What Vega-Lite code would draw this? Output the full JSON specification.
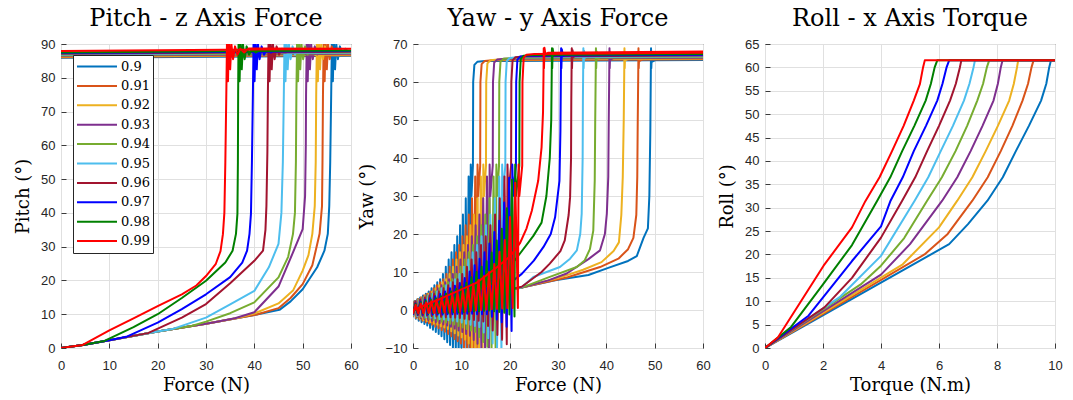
{
"$schema":"https://vega.github.io/schema/vega-lite/v6.json",
"background":"white",
"padding":{"left":14,"top":6,"right":5,"bottom":3},
"spacing":62,
"bounds":"flush",
"config":{
"view":{"stroke":"#3a3a3a","strokeWidth":1},
"axis":{"grid":true,"gridColor":"#e0e0e0","gridWidth":1,"domain":false,"ticks":true,"tickSize":-5,"tickColor":"#3a3a3a","tickWidth":1,"labelFlush":false,"labelFont":"Liberation Sans","labelFontSize":13,"labelColor":"#262626","titleFont":"DejaVu Serif","titleFontSize":18,"titleFontWeight":"normal","titleColor":"#000000"},
"axisX":{"labelPadding":16,"titlePadding":4},
"axisY":{"labelPadding":11,"titlePadding":8},
"title":{"font":"DejaVu Serif","fontSize":24,"fontWeight":"normal","color":"#000000","offset":7,"anchor":"middle"},
"line":{"strokeWidth":2,"strokeJoin":"round","clip":true}
},
"resolve":{"scale":{"color":"independent"},"legend":{"color":"independent"}},
"datasets":{
"pitch":[
{"s":"0.9","o":0,"x":0,"y":0},{"s":"0.9","o":1,"x":4.5,"y":0.9},{"s":"0.9","o":2,"x":10,"y":2.3},{"s":"0.9","o":3,"x":20,"y":4.9},{"s":"0.9","o":4,"x":30,"y":7.2},{"s":"0.9","o":5,"x":40,"y":9.8},{"s":"0.9","o":6,"x":45.2,"y":11.3},{"s":"0.9","o":7,"x":47.5,"y":13.8},{"s":"0.9","o":8,"x":50,"y":17.4},{"s":"0.9","o":9,"x":53,"y":23.9},{"s":"0.9","o":10,"x":54.5,"y":28.8},{"s":"0.9","o":11,"x":55.2,"y":33.8},{"s":"0.9","o":12,"x":55.5,"y":42},{"s":"0.9","o":13,"x":55.7,"y":55},{"s":"0.9","o":14,"x":55.9,"y":75},{"s":"0.9","o":15,"x":56,"y":86},{"s":"0.9","o":16,"x":56.05,"y":92},{"s":"0.9","o":17,"x":56.25,"y":79},{"s":"0.9","o":18,"x":56.45,"y":91.5},{"s":"0.9","o":19,"x":56.7,"y":82.5},{"s":"0.9","o":20,"x":56.95,"y":90},{"s":"0.9","o":21,"x":57.3,"y":85.5},{"s":"0.9","o":22,"x":57.7,"y":89.3},{"s":"0.9","o":23,"x":58.2,"y":86.8},{"s":"0.9","o":24,"x":58.8,"y":88.6},{"s":"0.9","o":25,"x":59.6,"y":87.5},{"s":"0.9","o":26,"x":60.5,"y":86.6},{"s":"0.9","o":27,"x":60,"y":86.5},{"s":"0.9","o":28,"x":0,"y":85.9},
{"s":"0.91","o":0,"x":0,"y":0},{"s":"0.91","o":1,"x":4.5,"y":0.9},{"s":"0.91","o":2,"x":10,"y":2.3},{"s":"0.91","o":3,"x":20,"y":4.9},{"s":"0.91","o":4,"x":30,"y":7.2},{"s":"0.91","o":5,"x":40.5,"y":9.9},{"s":"0.91","o":6,"x":45,"y":11.8},{"s":"0.91","o":7,"x":47.5,"y":14.8},{"s":"0.91","o":8,"x":50,"y":18.9},{"s":"0.91","o":9,"x":52,"y":24.5},{"s":"0.91","o":10,"x":53.5,"y":33.8},{"s":"0.91","o":11,"x":54,"y":42},{"s":"0.91","o":12,"x":54.1,"y":55},{"s":"0.91","o":13,"x":54.2,"y":75},{"s":"0.91","o":14,"x":54.3,"y":86},{"s":"0.91","o":15,"x":54.35,"y":92},{"s":"0.91","o":16,"x":54.55,"y":79},{"s":"0.91","o":17,"x":54.75,"y":91.5},{"s":"0.91","o":18,"x":55,"y":82.5},{"s":"0.91","o":19,"x":55.25,"y":90},{"s":"0.91","o":20,"x":55.6,"y":85.5},{"s":"0.91","o":21,"x":56,"y":89.3},{"s":"0.91","o":22,"x":56.5,"y":86.8},{"s":"0.91","o":23,"x":57.1,"y":88.6},{"s":"0.91","o":24,"x":57.9,"y":87.5},{"s":"0.91","o":25,"x":58.8,"y":86.8},{"s":"0.91","o":26,"x":60,"y":86.7},{"s":"0.91","o":27,"x":0,"y":86.1},
{"s":"0.92","o":0,"x":0,"y":0},{"s":"0.92","o":1,"x":4.5,"y":0.9},{"s":"0.92","o":2,"x":10,"y":2.3},{"s":"0.92","o":3,"x":20,"y":4.9},{"s":"0.92","o":4,"x":30,"y":7.2},{"s":"0.92","o":5,"x":36.5,"y":8.9},{"s":"0.92","o":6,"x":40,"y":10.2},{"s":"0.92","o":7,"x":45,"y":13.2},{"s":"0.92","o":8,"x":48,"y":17},{"s":"0.92","o":9,"x":50,"y":22.9},{"s":"0.92","o":10,"x":51.2,"y":27.5},{"s":"0.92","o":11,"x":52,"y":33.8},{"s":"0.92","o":12,"x":52.5,"y":42},{"s":"0.92","o":13,"x":52.7,"y":55},{"s":"0.92","o":14,"x":52.8,"y":75},{"s":"0.92","o":15,"x":52.9,"y":86},{"s":"0.92","o":16,"x":52.95,"y":92},{"s":"0.92","o":17,"x":53.15,"y":79},{"s":"0.92","o":18,"x":53.35,"y":91.5},{"s":"0.92","o":19,"x":53.6,"y":82.5},{"s":"0.92","o":20,"x":53.85,"y":90},{"s":"0.92","o":21,"x":54.2,"y":85.5},{"s":"0.92","o":22,"x":54.6,"y":89.3},{"s":"0.92","o":23,"x":55.1,"y":86.8},{"s":"0.92","o":24,"x":55.7,"y":88.6},{"s":"0.92","o":25,"x":56.5,"y":87.5},{"s":"0.92","o":26,"x":57.4,"y":87},{"s":"0.92","o":27,"x":60,"y":86.9},{"s":"0.92","o":28,"x":0,"y":86.3},
{"s":"0.93","o":0,"x":0,"y":0},{"s":"0.93","o":1,"x":4.5,"y":0.9},{"s":"0.93","o":2,"x":10,"y":2.3},{"s":"0.93","o":3,"x":20,"y":4.9},{"s":"0.93","o":4,"x":30,"y":7.2},{"s":"0.93","o":5,"x":32,"y":7.7},{"s":"0.93","o":6,"x":36,"y":8.8},{"s":"0.93","o":7,"x":40,"y":10.6},{"s":"0.93","o":8,"x":45,"y":18.2},{"s":"0.93","o":9,"x":48,"y":28.3},{"s":"0.93","o":10,"x":50,"y":35.2},{"s":"0.93","o":11,"x":50.5,"y":45},{"s":"0.93","o":12,"x":50.65,"y":60},{"s":"0.93","o":13,"x":50.7,"y":75},{"s":"0.93","o":14,"x":50.8,"y":86},{"s":"0.93","o":15,"x":50.85,"y":92},{"s":"0.93","o":16,"x":51.05,"y":79},{"s":"0.93","o":17,"x":51.25,"y":91.5},{"s":"0.93","o":18,"x":51.5,"y":82.5},{"s":"0.93","o":19,"x":51.75,"y":90},{"s":"0.93","o":20,"x":52.1,"y":85.5},{"s":"0.93","o":21,"x":52.5,"y":89.3},{"s":"0.93","o":22,"x":53,"y":86.8},{"s":"0.93","o":23,"x":53.6,"y":88.6},{"s":"0.93","o":24,"x":54.4,"y":87.5},{"s":"0.93","o":25,"x":55.3,"y":87.2},{"s":"0.93","o":26,"x":60,"y":87.1},{"s":"0.93","o":27,"x":0,"y":86.5},
{"s":"0.94","o":0,"x":0,"y":0},{"s":"0.94","o":1,"x":4.5,"y":0.9},{"s":"0.94","o":2,"x":10,"y":2.3},{"s":"0.94","o":3,"x":20,"y":4.9},{"s":"0.94","o":4,"x":27,"y":6.5},{"s":"0.94","o":5,"x":30,"y":7.8},{"s":"0.94","o":6,"x":35,"y":10.3},{"s":"0.94","o":7,"x":40,"y":13.5},{"s":"0.94","o":8,"x":45,"y":20.9},{"s":"0.94","o":9,"x":47,"y":27},{"s":"0.94","o":10,"x":48,"y":33.8},{"s":"0.94","o":11,"x":48.4,"y":40},{"s":"0.94","o":12,"x":48.6,"y":55},{"s":"0.94","o":13,"x":48.7,"y":75},{"s":"0.94","o":14,"x":48.8,"y":86},{"s":"0.94","o":15,"x":48.85,"y":92},{"s":"0.94","o":16,"x":49.05,"y":79},{"s":"0.94","o":17,"x":49.25,"y":91.5},{"s":"0.94","o":18,"x":49.5,"y":82.5},{"s":"0.94","o":19,"x":49.75,"y":90},{"s":"0.94","o":20,"x":50.1,"y":85.5},{"s":"0.94","o":21,"x":50.5,"y":89.3},{"s":"0.94","o":22,"x":51,"y":86.8},{"s":"0.94","o":23,"x":51.6,"y":88.6},{"s":"0.94","o":24,"x":52.4,"y":87.5},{"s":"0.94","o":25,"x":53.3,"y":87.4},{"s":"0.94","o":26,"x":60,"y":87.3},{"s":"0.94","o":27,"x":0,"y":86.7},
{"s":"0.95","o":0,"x":0,"y":0},{"s":"0.95","o":1,"x":4.5,"y":0.9},{"s":"0.95","o":2,"x":10,"y":2.3},{"s":"0.95","o":3,"x":20,"y":4.9},{"s":"0.95","o":4,"x":23,"y":5.6},{"s":"0.95","o":5,"x":30,"y":9},{"s":"0.95","o":6,"x":35,"y":12.9},{"s":"0.95","o":7,"x":40,"y":16.9},{"s":"0.95","o":8,"x":43,"y":23.9},{"s":"0.95","o":9,"x":45,"y":30.8},{"s":"0.95","o":10,"x":45.6,"y":40},{"s":"0.95","o":11,"x":45.9,"y":55},{"s":"0.95","o":12,"x":46.1,"y":75},{"s":"0.95","o":13,"x":46.2,"y":86},{"s":"0.95","o":14,"x":46.25,"y":92},{"s":"0.95","o":15,"x":46.45,"y":79},{"s":"0.95","o":16,"x":46.65,"y":91.5},{"s":"0.95","o":17,"x":46.9,"y":82.5},{"s":"0.95","o":18,"x":47.15,"y":90},{"s":"0.95","o":19,"x":47.5,"y":85.5},{"s":"0.95","o":20,"x":47.9,"y":89.3},{"s":"0.95","o":21,"x":48.4,"y":86.8},{"s":"0.95","o":22,"x":49,"y":88.6},{"s":"0.95","o":23,"x":49.8,"y":87.5},{"s":"0.95","o":24,"x":50.7,"y":87.6},{"s":"0.95","o":25,"x":60,"y":87.5},{"s":"0.95","o":26,"x":0,"y":86.9},
{"s":"0.96","o":0,"x":0,"y":0},{"s":"0.96","o":1,"x":4.5,"y":0.9},{"s":"0.96","o":2,"x":10,"y":2.3},{"s":"0.96","o":3,"x":18,"y":4.4},{"s":"0.96","o":4,"x":25,"y":9},{"s":"0.96","o":5,"x":30,"y":13},{"s":"0.96","o":6,"x":35,"y":19.2},{"s":"0.96","o":7,"x":40,"y":25.8},{"s":"0.96","o":8,"x":41.8,"y":28.8},{"s":"0.96","o":9,"x":42.3,"y":35},{"s":"0.96","o":10,"x":42.5,"y":42},{"s":"0.96","o":11,"x":42.7,"y":58},{"s":"0.96","o":12,"x":42.8,"y":75},{"s":"0.96","o":13,"x":42.9,"y":86},{"s":"0.96","o":14,"x":42.95,"y":92},{"s":"0.96","o":15,"x":43.15,"y":79},{"s":"0.96","o":16,"x":43.35,"y":91.5},{"s":"0.96","o":17,"x":43.6,"y":82.5},{"s":"0.96","o":18,"x":43.85,"y":90},{"s":"0.96","o":19,"x":44.2,"y":85.5},{"s":"0.96","o":20,"x":44.6,"y":89.3},{"s":"0.96","o":21,"x":45.1,"y":86.8},{"s":"0.96","o":22,"x":45.7,"y":88.6},{"s":"0.96","o":23,"x":46.5,"y":87.5},{"s":"0.96","o":24,"x":47.4,"y":87.8},{"s":"0.96","o":25,"x":60,"y":87.7},{"s":"0.96","o":26,"x":0,"y":87.1},
{"s":"0.97","o":0,"x":0,"y":0},{"s":"0.97","o":1,"x":4.5,"y":0.9},{"s":"0.97","o":2,"x":10,"y":2.3},{"s":"0.97","o":3,"x":13.5,"y":3.3},{"s":"0.97","o":4,"x":20,"y":7.5},{"s":"0.97","o":5,"x":25,"y":11.5},{"s":"0.97","o":6,"x":30,"y":15.9},{"s":"0.97","o":7,"x":35,"y":21},{"s":"0.97","o":8,"x":37.5,"y":25.3},{"s":"0.97","o":9,"x":38.5,"y":28.8},{"s":"0.97","o":10,"x":39,"y":33.8},{"s":"0.97","o":11,"x":39.3,"y":39.7},{"s":"0.97","o":12,"x":39.5,"y":55},{"s":"0.97","o":13,"x":39.7,"y":75},{"s":"0.97","o":14,"x":39.8,"y":86},{"s":"0.97","o":15,"x":39.85,"y":92},{"s":"0.97","o":16,"x":40.05,"y":79},{"s":"0.97","o":17,"x":40.25,"y":91.5},{"s":"0.97","o":18,"x":40.5,"y":82.5},{"s":"0.97","o":19,"x":40.75,"y":90},{"s":"0.97","o":20,"x":41.1,"y":85.5},{"s":"0.97","o":21,"x":41.5,"y":89.3},{"s":"0.97","o":22,"x":42,"y":86.8},{"s":"0.97","o":23,"x":42.6,"y":88.6},{"s":"0.97","o":24,"x":43.4,"y":87.5},{"s":"0.97","o":25,"x":44.3,"y":88},{"s":"0.97","o":26,"x":60,"y":87.9},{"s":"0.97","o":27,"x":0,"y":87.3},
{"s":"0.98","o":0,"x":0,"y":0},{"s":"0.98","o":1,"x":4.5,"y":0.9},{"s":"0.98","o":2,"x":9,"y":2.1},{"s":"0.98","o":3,"x":15,"y":6.2},{"s":"0.98","o":4,"x":20,"y":10},{"s":"0.98","o":5,"x":25,"y":14.8},{"s":"0.98","o":6,"x":30,"y":19.9},{"s":"0.98","o":7,"x":34,"y":25.3},{"s":"0.98","o":8,"x":35.5,"y":28.8},{"s":"0.98","o":9,"x":36.2,"y":33.8},{"s":"0.98","o":10,"x":36.5,"y":39.7},{"s":"0.98","o":11,"x":36.6,"y":55},{"s":"0.98","o":12,"x":36.65,"y":75},{"s":"0.98","o":13,"x":36.7,"y":86},{"s":"0.98","o":14,"x":36.75,"y":92},{"s":"0.98","o":15,"x":36.95,"y":79},{"s":"0.98","o":16,"x":37.15,"y":91.5},{"s":"0.98","o":17,"x":37.4,"y":82.5},{"s":"0.98","o":18,"x":37.65,"y":90},{"s":"0.98","o":19,"x":38,"y":85.5},{"s":"0.98","o":20,"x":38.4,"y":89.3},{"s":"0.98","o":21,"x":38.9,"y":86.8},{"s":"0.98","o":22,"x":39.5,"y":88.6},{"s":"0.98","o":23,"x":40.3,"y":87.5},{"s":"0.98","o":24,"x":41.2,"y":88.2},{"s":"0.98","o":25,"x":60,"y":88.1},{"s":"0.98","o":26,"x":0,"y":87.5},
{"s":"0.99","o":0,"x":0,"y":0},{"s":"0.99","o":1,"x":4.5,"y":0.9},{"s":"0.99","o":2,"x":10,"y":5.2},{"s":"0.99","o":3,"x":15,"y":8.8},{"s":"0.99","o":4,"x":20,"y":12.4},{"s":"0.99","o":5,"x":25,"y":15.9},{"s":"0.99","o":6,"x":28,"y":18.5},{"s":"0.99","o":7,"x":30,"y":21.3},{"s":"0.99","o":8,"x":32,"y":24.8},{"s":"0.99","o":9,"x":33,"y":28.7},{"s":"0.99","o":10,"x":33.5,"y":33.7},{"s":"0.99","o":11,"x":33.8,"y":40},{"s":"0.99","o":12,"x":34,"y":55},{"s":"0.99","o":13,"x":34.2,"y":75},{"s":"0.99","o":14,"x":34.3,"y":86},{"s":"0.99","o":15,"x":34.35,"y":92},{"s":"0.99","o":16,"x":34.55,"y":79},{"s":"0.99","o":17,"x":34.75,"y":91.5},{"s":"0.99","o":18,"x":35,"y":82.5},{"s":"0.99","o":19,"x":35.25,"y":90},{"s":"0.99","o":20,"x":35.6,"y":85.5},{"s":"0.99","o":21,"x":36,"y":89.3},{"s":"0.99","o":22,"x":36.5,"y":86.8},{"s":"0.99","o":23,"x":37.1,"y":88.6},{"s":"0.99","o":24,"x":37.9,"y":87.5},{"s":"0.99","o":25,"x":38.8,"y":88.7},{"s":"0.99","o":26,"x":60,"y":88.6},{"s":"0.99","o":27,"x":0,"y":87.9}
],
"yaw":[
{"s":"0.9","g":"a","o":0,"x":0,"y":-1.9},{"s":"0.9","g":"a","o":1,"x":0.3,"y":2.3},{"s":"0.9","g":"a","o":2,"x":0.59,"y":-2.3},{"s":"0.9","g":"a","o":3,"x":0.89,"y":2.8},{"s":"0.9","g":"a","o":4,"x":1.18,"y":-2.8},{"s":"0.9","g":"a","o":5,"x":1.48,"y":3.3},{"s":"0.9","g":"a","o":6,"x":1.77,"y":-3.2},{"s":"0.9","g":"a","o":7,"x":2.07,"y":3.8},{"s":"0.9","g":"a","o":8,"x":2.36,"y":-3.7},{"s":"0.9","g":"a","o":9,"x":2.66,"y":4.3},{"s":"0.9","g":"a","o":10,"x":2.95,"y":-4.1},{"s":"0.9","g":"a","o":11,"x":3.25,"y":4.9},{"s":"0.9","g":"a","o":12,"x":3.54,"y":-4.7},{"s":"0.9","g":"a","o":13,"x":3.84,"y":5.7},{"s":"0.9","g":"a","o":14,"x":4.13,"y":-5.2},{"s":"0.9","g":"a","o":15,"x":4.43,"y":6.5},{"s":"0.9","g":"a","o":16,"x":4.72,"y":-5.8},{"s":"0.9","g":"a","o":17,"x":5.02,"y":7.3},{"s":"0.9","g":"a","o":18,"x":5.31,"y":-6.3},{"s":"0.9","g":"a","o":19,"x":5.61,"y":8.1},{"s":"0.9","g":"a","o":20,"x":5.9,"y":-6.9},{"s":"0.9","g":"a","o":21,"x":6.2,"y":9.5},{"s":"0.9","g":"a","o":22,"x":6.49,"y":-7.7},{"s":"0.9","g":"a","o":23,"x":6.79,"y":11.4},{"s":"0.9","g":"a","o":24,"x":7.08,"y":-8.5},{"s":"0.9","g":"a","o":25,"x":7.38,"y":13.3},{"s":"0.9","g":"a","o":26,"x":7.67,"y":-9.2},{"s":"0.9","g":"a","o":27,"x":7.97,"y":15.2},{"s":"0.9","g":"a","o":28,"x":8.26,"y":-10},{"s":"0.9","g":"a","o":29,"x":8.56,"y":17.1},{"s":"0.9","g":"a","o":30,"x":8.85,"y":-10.8},{"s":"0.9","g":"a","o":31,"x":9.15,"y":19.4},{"s":"0.9","g":"a","o":32,"x":9.44,"y":-12.4},{"s":"0.9","g":"a","o":33,"x":9.74,"y":22.3},{"s":"0.9","g":"a","o":34,"x":10.03,"y":-13.9},{"s":"0.9","g":"a","o":35,"x":10.33,"y":25.1},{"s":"0.9","g":"a","o":36,"x":10.62,"y":-15.5},{"s":"0.9","g":"a","o":37,"x":10.92,"y":29.4},{"s":"0.9","g":"a","o":38,"x":11.21,"y":-16.8},{"s":"0.9","g":"a","o":39,"x":11.51,"y":35.1},{"s":"0.9","g":"a","o":40,"x":11.8,"y":-18},{"s":"0.9","g":"a","o":41,"x":11.95,"y":38.3},{"s":"0.9","g":"a","o":42,"x":12.1,"y":30},{"s":"0.9","g":"a","o":43,"x":12.4,"y":38},{"s":"0.9","g":"a","o":44,"x":12.45,"y":60},{"s":"0.9","g":"a","o":45,"x":12.7,"y":64.5},{"s":"0.9","g":"a","o":46,"x":13.3,"y":65.3},{"s":"0.9","g":"a","o":47,"x":14.9,"y":65.5},{"s":"0.9","g":"a","o":48,"x":60,"y":65.8},
{"s":"0.9","g":"b","o":0,"x":0,"y":0},{"s":"0.9","g":"b","o":1,"x":22.5,"y":5.9},{"s":"0.9","g":"b","o":2,"x":29.4,"y":7.8},{"s":"0.9","g":"b","o":3,"x":36.3,"y":9.2},{"s":"0.9","g":"b","o":4,"x":40.4,"y":11.1},{"s":"0.9","g":"b","o":5,"x":44.5,"y":12.9},{"s":"0.9","g":"b","o":6,"x":46.3,"y":14.2},{"s":"0.9","g":"b","o":7,"x":47.7,"y":19},{"s":"0.9","g":"b","o":8,"x":48.6,"y":21.5},{"s":"0.9","g":"b","o":9,"x":48.9,"y":30},{"s":"0.9","g":"b","o":10,"x":49.1,"y":47},{"s":"0.9","g":"b","o":11,"x":49.2,"y":62},{"s":"0.9","g":"b","o":12,"x":49.25,"y":68.9},{"s":"0.9","g":"b","o":13,"x":49.3,"y":63.6},{"s":"0.9","g":"b","o":14,"x":49.4,"y":67.2},{"s":"0.9","g":"b","o":15,"x":49.6,"y":65.4},{"s":"0.9","g":"b","o":16,"x":50.2,"y":65.8},{"s":"0.9","g":"b","o":17,"x":60,"y":66.1},
{"s":"0.91","g":"a","o":0,"x":0,"y":-1.8},{"s":"0.91","g":"a","o":1,"x":0.33,"y":2.3},{"s":"0.91","g":"a","o":2,"x":0.66,"y":-2.1},{"s":"0.91","g":"a","o":3,"x":0.99,"y":2.8},{"s":"0.91","g":"a","o":4,"x":1.32,"y":-2.5},{"s":"0.91","g":"a","o":5,"x":1.65,"y":3.3},{"s":"0.91","g":"a","o":6,"x":1.98,"y":-2.8},{"s":"0.91","g":"a","o":7,"x":2.31,"y":3.8},{"s":"0.91","g":"a","o":8,"x":2.64,"y":-3.2},{"s":"0.91","g":"a","o":9,"x":2.97,"y":4.3},{"s":"0.91","g":"a","o":10,"x":3.3,"y":-3.5},{"s":"0.91","g":"a","o":11,"x":3.63,"y":4.9},{"s":"0.91","g":"a","o":12,"x":3.96,"y":-3.9},{"s":"0.91","g":"a","o":13,"x":4.29,"y":5.7},{"s":"0.91","g":"a","o":14,"x":4.62,"y":-4.4},{"s":"0.91","g":"a","o":15,"x":4.95,"y":6.5},{"s":"0.91","g":"a","o":16,"x":5.28,"y":-4.8},{"s":"0.91","g":"a","o":17,"x":5.61,"y":7.3},{"s":"0.91","g":"a","o":18,"x":5.94,"y":-5.3},{"s":"0.91","g":"a","o":19,"x":6.27,"y":8.1},{"s":"0.91","g":"a","o":20,"x":6.6,"y":-5.7},{"s":"0.91","g":"a","o":21,"x":6.93,"y":9.5},{"s":"0.91","g":"a","o":22,"x":7.26,"y":-6.3},{"s":"0.91","g":"a","o":23,"x":7.59,"y":11.4},{"s":"0.91","g":"a","o":24,"x":7.92,"y":-6.9},{"s":"0.91","g":"a","o":25,"x":8.25,"y":13.3},{"s":"0.91","g":"a","o":26,"x":8.58,"y":-7.6},{"s":"0.91","g":"a","o":27,"x":8.91,"y":15.2},{"s":"0.91","g":"a","o":28,"x":9.24,"y":-8.2},{"s":"0.91","g":"a","o":29,"x":9.57,"y":17.1},{"s":"0.91","g":"a","o":30,"x":9.9,"y":-8.8},{"s":"0.91","g":"a","o":31,"x":10.23,"y":19.4},{"s":"0.91","g":"a","o":32,"x":10.56,"y":-9.9},{"s":"0.91","g":"a","o":33,"x":10.89,"y":22.3},{"s":"0.91","g":"a","o":34,"x":11.22,"y":-10.9},{"s":"0.91","g":"a","o":35,"x":11.55,"y":25.1},{"s":"0.91","g":"a","o":36,"x":11.88,"y":-12},{"s":"0.91","g":"a","o":37,"x":12.21,"y":29.4},{"s":"0.91","g":"a","o":38,"x":12.54,"y":-13},{"s":"0.91","g":"a","o":39,"x":12.87,"y":35.1},{"s":"0.91","g":"a","o":40,"x":13.2,"y":-14},{"s":"0.91","g":"a","o":41,"x":13.35,"y":38.3},{"s":"0.91","g":"a","o":42,"x":13.5,"y":30},{"s":"0.91","g":"a","o":43,"x":13.9,"y":38},{"s":"0.91","g":"a","o":44,"x":13.95,"y":60},{"s":"0.91","g":"a","o":45,"x":14.2,"y":64.7},{"s":"0.91","g":"a","o":46,"x":14.8,"y":65.5},{"s":"0.91","g":"a","o":47,"x":16.4,"y":65.7},{"s":"0.91","g":"a","o":48,"x":60,"y":66},
{"s":"0.91","g":"b","o":0,"x":0,"y":0},{"s":"0.91","g":"b","o":1,"x":22.5,"y":5.9},{"s":"0.91","g":"b","o":2,"x":32,"y":8.6},{"s":"0.91","g":"b","o":3,"x":38.7,"y":11.3},{"s":"0.91","g":"b","o":4,"x":42.5,"y":13.5},{"s":"0.91","g":"b","o":5,"x":44.5,"y":16},{"s":"0.91","g":"b","o":6,"x":45.6,"y":19},{"s":"0.91","g":"b","o":7,"x":46.2,"y":25},{"s":"0.91","g":"b","o":8,"x":46.4,"y":35},{"s":"0.91","g":"b","o":9,"x":46.5,"y":50},{"s":"0.91","g":"b","o":10,"x":46.6,"y":62},{"s":"0.91","g":"b","o":11,"x":46.65,"y":68.9},{"s":"0.91","g":"b","o":12,"x":46.7,"y":63.6},{"s":"0.91","g":"b","o":13,"x":46.8,"y":67.4},{"s":"0.91","g":"b","o":14,"x":47,"y":65.6},{"s":"0.91","g":"b","o":15,"x":47.6,"y":66},{"s":"0.91","g":"b","o":16,"x":60,"y":66.3},
{"s":"0.92","g":"a","o":0,"x":0,"y":-1.7},{"s":"0.92","g":"a","o":1,"x":0.36,"y":2.3},{"s":"0.92","g":"a","o":2,"x":0.72,"y":-2},{"s":"0.92","g":"a","o":3,"x":1.08,"y":2.8},{"s":"0.92","g":"a","o":4,"x":1.44,"y":-2.3},{"s":"0.92","g":"a","o":5,"x":1.8,"y":3.3},{"s":"0.92","g":"a","o":6,"x":2.16,"y":-2.6},{"s":"0.92","g":"a","o":7,"x":2.52,"y":3.8},{"s":"0.92","g":"a","o":8,"x":2.88,"y":-2.9},{"s":"0.92","g":"a","o":9,"x":3.24,"y":4.3},{"s":"0.92","g":"a","o":10,"x":3.6,"y":-3.2},{"s":"0.92","g":"a","o":11,"x":3.96,"y":4.9},{"s":"0.92","g":"a","o":12,"x":4.32,"y":-3.6},{"s":"0.92","g":"a","o":13,"x":4.68,"y":5.7},{"s":"0.92","g":"a","o":14,"x":5.04,"y":-3.9},{"s":"0.92","g":"a","o":15,"x":5.4,"y":6.5},{"s":"0.92","g":"a","o":16,"x":5.76,"y":-4.3},{"s":"0.92","g":"a","o":17,"x":6.12,"y":7.3},{"s":"0.92","g":"a","o":18,"x":6.48,"y":-4.6},{"s":"0.92","g":"a","o":19,"x":6.84,"y":8.1},{"s":"0.92","g":"a","o":20,"x":7.2,"y":-5},{"s":"0.92","g":"a","o":21,"x":7.56,"y":9.5},{"s":"0.92","g":"a","o":22,"x":7.92,"y":-5.6},{"s":"0.92","g":"a","o":23,"x":8.28,"y":11.4},{"s":"0.92","g":"a","o":24,"x":8.64,"y":-6.1},{"s":"0.92","g":"a","o":25,"x":9,"y":13.3},{"s":"0.92","g":"a","o":26,"x":9.36,"y":-6.7},{"s":"0.92","g":"a","o":27,"x":9.72,"y":15.2},{"s":"0.92","g":"a","o":28,"x":10.08,"y":-7.2},{"s":"0.92","g":"a","o":29,"x":10.44,"y":17.1},{"s":"0.92","g":"a","o":30,"x":10.8,"y":-7.8},{"s":"0.92","g":"a","o":31,"x":11.16,"y":19.4},{"s":"0.92","g":"a","o":32,"x":11.52,"y":-8.8},{"s":"0.92","g":"a","o":33,"x":11.88,"y":22.3},{"s":"0.92","g":"a","o":34,"x":12.24,"y":-9.8},{"s":"0.92","g":"a","o":35,"x":12.6,"y":25.1},{"s":"0.92","g":"a","o":36,"x":12.96,"y":-10.8},{"s":"0.92","g":"a","o":37,"x":13.32,"y":29.4},{"s":"0.92","g":"a","o":38,"x":13.68,"y":-11.9},{"s":"0.92","g":"a","o":39,"x":14.04,"y":35.1},{"s":"0.92","g":"a","o":40,"x":14.4,"y":-13},{"s":"0.92","g":"a","o":41,"x":14.55,"y":38.3},{"s":"0.92","g":"a","o":42,"x":14.7,"y":30},{"s":"0.92","g":"a","o":43,"x":15.1,"y":38},{"s":"0.92","g":"a","o":44,"x":15.15,"y":60},{"s":"0.92","g":"a","o":45,"x":15.4,"y":64.9},{"s":"0.92","g":"a","o":46,"x":16,"y":65.7},{"s":"0.92","g":"a","o":47,"x":17.6,"y":65.9},{"s":"0.92","g":"a","o":48,"x":60,"y":66.2},
{"s":"0.92","g":"b","o":0,"x":0,"y":0},{"s":"0.92","g":"b","o":1,"x":22.5,"y":5.9},{"s":"0.92","g":"b","o":2,"x":30,"y":8.4},{"s":"0.92","g":"b","o":3,"x":35.2,"y":10.6},{"s":"0.92","g":"b","o":4,"x":39,"y":12.6},{"s":"0.92","g":"b","o":5,"x":41.5,"y":15.5},{"s":"0.92","g":"b","o":6,"x":42.6,"y":17.8},{"s":"0.92","g":"b","o":7,"x":43.1,"y":25},{"s":"0.92","g":"b","o":8,"x":43.4,"y":35},{"s":"0.92","g":"b","o":9,"x":43.6,"y":50},{"s":"0.92","g":"b","o":10,"x":43.7,"y":62},{"s":"0.92","g":"b","o":11,"x":43.75,"y":68.9},{"s":"0.92","g":"b","o":12,"x":43.8,"y":63.6},{"s":"0.92","g":"b","o":13,"x":43.9,"y":67.6},{"s":"0.92","g":"b","o":14,"x":44.1,"y":65.8},{"s":"0.92","g":"b","o":15,"x":44.7,"y":66.2},{"s":"0.92","g":"b","o":16,"x":60,"y":66.5},
{"s":"0.93","g":"a","o":0,"x":0,"y":-1.6},{"s":"0.93","g":"a","o":1,"x":0.39,"y":2.3},{"s":"0.93","g":"a","o":2,"x":0.79,"y":-1.9},{"s":"0.93","g":"a","o":3,"x":1.18,"y":2.8},{"s":"0.93","g":"a","o":4,"x":1.57,"y":-2.1},{"s":"0.93","g":"a","o":5,"x":1.96,"y":3.3},{"s":"0.93","g":"a","o":6,"x":2.36,"y":-2.4},{"s":"0.93","g":"a","o":7,"x":2.75,"y":3.8},{"s":"0.93","g":"a","o":8,"x":3.14,"y":-2.6},{"s":"0.93","g":"a","o":9,"x":3.53,"y":4.3},{"s":"0.93","g":"a","o":10,"x":3.93,"y":-2.9},{"s":"0.93","g":"a","o":11,"x":4.32,"y":4.9},{"s":"0.93","g":"a","o":12,"x":4.71,"y":-3.2},{"s":"0.93","g":"a","o":13,"x":5.1,"y":5.7},{"s":"0.93","g":"a","o":14,"x":5.5,"y":-3.5},{"s":"0.93","g":"a","o":15,"x":5.89,"y":6.5},{"s":"0.93","g":"a","o":16,"x":6.28,"y":-3.8},{"s":"0.93","g":"a","o":17,"x":6.67,"y":7.3},{"s":"0.93","g":"a","o":18,"x":7.07,"y":-4.1},{"s":"0.93","g":"a","o":19,"x":7.46,"y":8.1},{"s":"0.93","g":"a","o":20,"x":7.85,"y":-4.4},{"s":"0.93","g":"a","o":21,"x":8.24,"y":9.5},{"s":"0.93","g":"a","o":22,"x":8.64,"y":-4.9},{"s":"0.93","g":"a","o":23,"x":9.03,"y":11.4},{"s":"0.93","g":"a","o":24,"x":9.42,"y":-5.4},{"s":"0.93","g":"a","o":25,"x":9.81,"y":13.3},{"s":"0.93","g":"a","o":26,"x":10.21,"y":-5.8},{"s":"0.93","g":"a","o":27,"x":10.6,"y":15.2},{"s":"0.93","g":"a","o":28,"x":10.99,"y":-6.3},{"s":"0.93","g":"a","o":29,"x":11.38,"y":17.1},{"s":"0.93","g":"a","o":30,"x":11.78,"y":-6.8},{"s":"0.93","g":"a","o":31,"x":12.17,"y":19.4},{"s":"0.93","g":"a","o":32,"x":12.56,"y":-7.9},{"s":"0.93","g":"a","o":33,"x":12.95,"y":22.3},{"s":"0.93","g":"a","o":34,"x":13.35,"y":-8.9},{"s":"0.93","g":"a","o":35,"x":13.74,"y":25.1},{"s":"0.93","g":"a","o":36,"x":14.13,"y":-10},{"s":"0.93","g":"a","o":37,"x":14.52,"y":29.4},{"s":"0.93","g":"a","o":38,"x":14.92,"y":-11},{"s":"0.93","g":"a","o":39,"x":15.31,"y":35.1},{"s":"0.93","g":"a","o":40,"x":15.7,"y":-12},{"s":"0.93","g":"a","o":41,"x":15.85,"y":38.3},{"s":"0.93","g":"a","o":42,"x":16,"y":30},{"s":"0.93","g":"a","o":43,"x":16.5,"y":38},{"s":"0.93","g":"a","o":44,"x":16.55,"y":60},{"s":"0.93","g":"a","o":45,"x":16.8,"y":65.1},{"s":"0.93","g":"a","o":46,"x":17.4,"y":65.9},{"s":"0.93","g":"a","o":47,"x":19,"y":66.1},{"s":"0.93","g":"a","o":48,"x":60,"y":66.4},
{"s":"0.93","g":"b","o":0,"x":0,"y":0},{"s":"0.93","g":"b","o":1,"x":22.5,"y":5.9},{"s":"0.93","g":"b","o":2,"x":28,"y":7.8},{"s":"0.93","g":"b","o":3,"x":31.8,"y":9.6},{"s":"0.93","g":"b","o":4,"x":36.3,"y":13.4},{"s":"0.93","g":"b","o":5,"x":38.7,"y":15.7},{"s":"0.93","g":"b","o":6,"x":39.7,"y":20},{"s":"0.93","g":"b","o":7,"x":40.1,"y":25.3},{"s":"0.93","g":"b","o":8,"x":40.4,"y":35},{"s":"0.93","g":"b","o":9,"x":40.5,"y":50},{"s":"0.93","g":"b","o":10,"x":40.6,"y":62},{"s":"0.93","g":"b","o":11,"x":40.65,"y":68.9},{"s":"0.93","g":"b","o":12,"x":40.7,"y":63.6},{"s":"0.93","g":"b","o":13,"x":40.8,"y":67.8},{"s":"0.93","g":"b","o":14,"x":41,"y":66},{"s":"0.93","g":"b","o":15,"x":41.6,"y":66.4},{"s":"0.93","g":"b","o":16,"x":60,"y":66.7},
{"s":"0.94","g":"a","o":0,"x":0,"y":-1.5},{"s":"0.94","g":"a","o":1,"x":0.43,"y":2.3},{"s":"0.94","g":"a","o":2,"x":0.86,"y":-1.7},{"s":"0.94","g":"a","o":3,"x":1.28,"y":2.8},{"s":"0.94","g":"a","o":4,"x":1.71,"y":-1.9},{"s":"0.94","g":"a","o":5,"x":2.14,"y":3.3},{"s":"0.94","g":"a","o":6,"x":2.57,"y":-2.2},{"s":"0.94","g":"a","o":7,"x":2.99,"y":3.8},{"s":"0.94","g":"a","o":8,"x":3.42,"y":-2.4},{"s":"0.94","g":"a","o":9,"x":3.85,"y":4.3},{"s":"0.94","g":"a","o":10,"x":4.28,"y":-2.6},{"s":"0.94","g":"a","o":11,"x":4.7,"y":4.9},{"s":"0.94","g":"a","o":12,"x":5.13,"y":-2.8},{"s":"0.94","g":"a","o":13,"x":5.56,"y":5.7},{"s":"0.94","g":"a","o":14,"x":5.99,"y":-3.1},{"s":"0.94","g":"a","o":15,"x":6.41,"y":6.5},{"s":"0.94","g":"a","o":16,"x":6.84,"y":-3.3},{"s":"0.94","g":"a","o":17,"x":7.27,"y":7.3},{"s":"0.94","g":"a","o":18,"x":7.7,"y":-3.6},{"s":"0.94","g":"a","o":19,"x":8.12,"y":8.1},{"s":"0.94","g":"a","o":20,"x":8.55,"y":-3.8},{"s":"0.94","g":"a","o":21,"x":8.98,"y":9.5},{"s":"0.94","g":"a","o":22,"x":9.41,"y":-4.2},{"s":"0.94","g":"a","o":23,"x":9.83,"y":11.4},{"s":"0.94","g":"a","o":24,"x":10.26,"y":-4.6},{"s":"0.94","g":"a","o":25,"x":10.69,"y":13.3},{"s":"0.94","g":"a","o":26,"x":11.12,"y":-5},{"s":"0.94","g":"a","o":27,"x":11.54,"y":15.2},{"s":"0.94","g":"a","o":28,"x":11.97,"y":-5.4},{"s":"0.94","g":"a","o":29,"x":12.4,"y":17.1},{"s":"0.94","g":"a","o":30,"x":12.83,"y":-5.8},{"s":"0.94","g":"a","o":31,"x":13.25,"y":19.4},{"s":"0.94","g":"a","o":32,"x":13.68,"y":-7.1},{"s":"0.94","g":"a","o":33,"x":14.11,"y":22.3},{"s":"0.94","g":"a","o":34,"x":14.54,"y":-8.4},{"s":"0.94","g":"a","o":35,"x":14.96,"y":25.1},{"s":"0.94","g":"a","o":36,"x":15.39,"y":-9.7},{"s":"0.94","g":"a","o":37,"x":15.82,"y":29.4},{"s":"0.94","g":"a","o":38,"x":16.25,"y":-10.6},{"s":"0.94","g":"a","o":39,"x":16.67,"y":35.1},{"s":"0.94","g":"a","o":40,"x":17.1,"y":-11.5},{"s":"0.94","g":"a","o":41,"x":17.25,"y":38.3},{"s":"0.94","g":"a","o":42,"x":17.4,"y":30},{"s":"0.94","g":"a","o":43,"x":17.8,"y":38},{"s":"0.94","g":"a","o":44,"x":17.85,"y":60},{"s":"0.94","g":"a","o":45,"x":18.1,"y":65.3},{"s":"0.94","g":"a","o":46,"x":18.7,"y":66.1},{"s":"0.94","g":"a","o":47,"x":20.3,"y":66.3},{"s":"0.94","g":"a","o":48,"x":60,"y":66.6},
{"s":"0.94","g":"b","o":0,"x":0,"y":0},{"s":"0.94","g":"b","o":1,"x":22.5,"y":5.9},{"s":"0.94","g":"b","o":2,"x":28.3,"y":8.7},{"s":"0.94","g":"b","o":3,"x":33.9,"y":11.3},{"s":"0.94","g":"b","o":4,"x":35.5,"y":13},{"s":"0.94","g":"b","o":5,"x":36.6,"y":16},{"s":"0.94","g":"b","o":6,"x":37.3,"y":20.9},{"s":"0.94","g":"b","o":7,"x":37.6,"y":34},{"s":"0.94","g":"b","o":8,"x":37.7,"y":50},{"s":"0.94","g":"b","o":9,"x":37.8,"y":62},{"s":"0.94","g":"b","o":10,"x":37.85,"y":68.9},{"s":"0.94","g":"b","o":11,"x":37.9,"y":63.6},{"s":"0.94","g":"b","o":12,"x":38,"y":68},{"s":"0.94","g":"b","o":13,"x":38.2,"y":66.2},{"s":"0.94","g":"b","o":14,"x":38.8,"y":66.6},{"s":"0.94","g":"b","o":15,"x":60,"y":66.9},
{"s":"0.95","g":"a","o":0,"x":0,"y":-1.4},{"s":"0.95","g":"a","o":1,"x":0.46,"y":2.3},{"s":"0.95","g":"a","o":2,"x":0.92,"y":-1.6},{"s":"0.95","g":"a","o":3,"x":1.37,"y":2.8},{"s":"0.95","g":"a","o":4,"x":1.83,"y":-1.7},{"s":"0.95","g":"a","o":5,"x":2.29,"y":3.3},{"s":"0.95","g":"a","o":6,"x":2.75,"y":-1.9},{"s":"0.95","g":"a","o":7,"x":3.2,"y":3.8},{"s":"0.95","g":"a","o":8,"x":3.66,"y":-2},{"s":"0.95","g":"a","o":9,"x":4.12,"y":4.3},{"s":"0.95","g":"a","o":10,"x":4.58,"y":-2.2},{"s":"0.95","g":"a","o":11,"x":5.03,"y":4.9},{"s":"0.95","g":"a","o":12,"x":5.49,"y":-2.4},{"s":"0.95","g":"a","o":13,"x":5.95,"y":5.7},{"s":"0.95","g":"a","o":14,"x":6.41,"y":-2.5},{"s":"0.95","g":"a","o":15,"x":6.86,"y":6.5},{"s":"0.95","g":"a","o":16,"x":7.32,"y":-2.7},{"s":"0.95","g":"a","o":17,"x":7.78,"y":7.3},{"s":"0.95","g":"a","o":18,"x":8.24,"y":-2.8},{"s":"0.95","g":"a","o":19,"x":8.69,"y":8.1},{"s":"0.95","g":"a","o":20,"x":9.15,"y":-3},{"s":"0.95","g":"a","o":21,"x":9.61,"y":9.5},{"s":"0.95","g":"a","o":22,"x":10.07,"y":-3.3},{"s":"0.95","g":"a","o":23,"x":10.52,"y":11.4},{"s":"0.95","g":"a","o":24,"x":10.98,"y":-3.6},{"s":"0.95","g":"a","o":25,"x":11.44,"y":13.3},{"s":"0.95","g":"a","o":26,"x":11.9,"y":-3.9},{"s":"0.95","g":"a","o":27,"x":12.35,"y":15.2},{"s":"0.95","g":"a","o":28,"x":12.81,"y":-4.2},{"s":"0.95","g":"a","o":29,"x":13.27,"y":17.1},{"s":"0.95","g":"a","o":30,"x":13.73,"y":-4.5},{"s":"0.95","g":"a","o":31,"x":14.18,"y":19.4},{"s":"0.95","g":"a","o":32,"x":14.64,"y":-5.9},{"s":"0.95","g":"a","o":33,"x":15.1,"y":22.3},{"s":"0.95","g":"a","o":34,"x":15.56,"y":-7.4},{"s":"0.95","g":"a","o":35,"x":16.01,"y":25.1},{"s":"0.95","g":"a","o":36,"x":16.47,"y":-8.8},{"s":"0.95","g":"a","o":37,"x":16.93,"y":29.4},{"s":"0.95","g":"a","o":38,"x":17.39,"y":-9.9},{"s":"0.95","g":"a","o":39,"x":17.84,"y":35.1},{"s":"0.95","g":"a","o":40,"x":18.3,"y":-11},{"s":"0.95","g":"a","o":41,"x":18.45,"y":38.3},{"s":"0.95","g":"a","o":42,"x":18.6,"y":30},{"s":"0.95","g":"a","o":43,"x":19.1,"y":38},{"s":"0.95","g":"a","o":44,"x":19.15,"y":60},{"s":"0.95","g":"a","o":45,"x":19.4,"y":65.5},{"s":"0.95","g":"a","o":46,"x":20,"y":66.3},{"s":"0.95","g":"a","o":47,"x":21.6,"y":66.5},{"s":"0.95","g":"a","o":48,"x":60,"y":66.8},
{"s":"0.95","g":"b","o":0,"x":0,"y":0},{"s":"0.95","g":"b","o":1,"x":22.5,"y":6},{"s":"0.95","g":"b","o":2,"x":24.9,"y":8.7},{"s":"0.95","g":"b","o":3,"x":30.4,"y":11.3},{"s":"0.95","g":"b","o":4,"x":32.5,"y":13.5},{"s":"0.95","g":"b","o":5,"x":33.9,"y":15.7},{"s":"0.95","g":"b","o":6,"x":34.6,"y":20},{"s":"0.95","g":"b","o":7,"x":34.9,"y":25.3},{"s":"0.95","g":"b","o":8,"x":35.1,"y":40},{"s":"0.95","g":"b","o":9,"x":35.15,"y":55},{"s":"0.95","g":"b","o":10,"x":35.2,"y":62},{"s":"0.95","g":"b","o":11,"x":35.25,"y":68.9},{"s":"0.95","g":"b","o":12,"x":35.3,"y":63.6},{"s":"0.95","g":"b","o":13,"x":35.4,"y":68.2},{"s":"0.95","g":"b","o":14,"x":35.6,"y":66.4},{"s":"0.95","g":"b","o":15,"x":36.2,"y":66.8},{"s":"0.95","g":"b","o":16,"x":60,"y":67.1},
{"s":"0.96","g":"a","o":0,"x":0,"y":-1.3},{"s":"0.96","g":"a","o":1,"x":0.49,"y":2.3},{"s":"0.96","g":"a","o":2,"x":0.97,"y":-1.4},{"s":"0.96","g":"a","o":3,"x":1.46,"y":2.8},{"s":"0.96","g":"a","o":4,"x":1.94,"y":-1.5},{"s":"0.96","g":"a","o":5,"x":2.43,"y":3.3},{"s":"0.96","g":"a","o":6,"x":2.91,"y":-1.5},{"s":"0.96","g":"a","o":7,"x":3.4,"y":3.8},{"s":"0.96","g":"a","o":8,"x":3.88,"y":-1.6},{"s":"0.96","g":"a","o":9,"x":4.37,"y":4.3},{"s":"0.96","g":"a","o":10,"x":4.85,"y":-1.7},{"s":"0.96","g":"a","o":11,"x":5.34,"y":4.9},{"s":"0.96","g":"a","o":12,"x":5.82,"y":-1.8},{"s":"0.96","g":"a","o":13,"x":6.31,"y":5.7},{"s":"0.96","g":"a","o":14,"x":6.79,"y":-1.9},{"s":"0.96","g":"a","o":15,"x":7.28,"y":6.5},{"s":"0.96","g":"a","o":16,"x":7.76,"y":-1.9},{"s":"0.96","g":"a","o":17,"x":8.25,"y":7.3},{"s":"0.96","g":"a","o":18,"x":8.73,"y":-2},{"s":"0.96","g":"a","o":19,"x":9.22,"y":8.1},{"s":"0.96","g":"a","o":20,"x":9.7,"y":-2.1},{"s":"0.96","g":"a","o":21,"x":10.19,"y":9.5},{"s":"0.96","g":"a","o":22,"x":10.67,"y":-2.3},{"s":"0.96","g":"a","o":23,"x":11.16,"y":11.4},{"s":"0.96","g":"a","o":24,"x":11.64,"y":-2.5},{"s":"0.96","g":"a","o":25,"x":12.13,"y":13.3},{"s":"0.96","g":"a","o":26,"x":12.61,"y":-2.6},{"s":"0.96","g":"a","o":27,"x":13.1,"y":15.2},{"s":"0.96","g":"a","o":28,"x":13.58,"y":-2.8},{"s":"0.96","g":"a","o":29,"x":14.07,"y":17.1},{"s":"0.96","g":"a","o":30,"x":14.55,"y":-3},{"s":"0.96","g":"a","o":31,"x":15.04,"y":19.4},{"s":"0.96","g":"a","o":32,"x":15.52,"y":-4.2},{"s":"0.96","g":"a","o":33,"x":16.01,"y":22.3},{"s":"0.96","g":"a","o":34,"x":16.49,"y":-5.4},{"s":"0.96","g":"a","o":35,"x":16.98,"y":25.1},{"s":"0.96","g":"a","o":36,"x":17.46,"y":-6.6},{"s":"0.96","g":"a","o":37,"x":17.95,"y":29.4},{"s":"0.96","g":"a","o":38,"x":18.43,"y":-7.8},{"s":"0.96","g":"a","o":39,"x":18.92,"y":35.1},{"s":"0.96","g":"a","o":40,"x":19.4,"y":-9},{"s":"0.96","g":"a","o":41,"x":19.55,"y":38.3},{"s":"0.96","g":"a","o":42,"x":19.7,"y":30},{"s":"0.96","g":"a","o":43,"x":20.3,"y":38},{"s":"0.96","g":"a","o":44,"x":20.35,"y":60},{"s":"0.96","g":"a","o":45,"x":20.6,"y":65.7},{"s":"0.96","g":"a","o":46,"x":21.2,"y":66.5},{"s":"0.96","g":"a","o":47,"x":22.8,"y":66.7},{"s":"0.96","g":"a","o":48,"x":60,"y":67},
{"s":"0.96","g":"b","o":0,"x":0,"y":0},{"s":"0.96","g":"b","o":1,"x":22.5,"y":6.1},{"s":"0.96","g":"b","o":2,"x":26.6,"y":10},{"s":"0.96","g":"b","o":3,"x":28.3,"y":12.2},{"s":"0.96","g":"b","o":4,"x":30.5,"y":15.5},{"s":"0.96","g":"b","o":5,"x":31.4,"y":18.3},{"s":"0.96","g":"b","o":6,"x":32.2,"y":25},{"s":"0.96","g":"b","o":7,"x":32.5,"y":29.7},{"s":"0.96","g":"b","o":8,"x":32.7,"y":40},{"s":"0.96","g":"b","o":9,"x":32.75,"y":55},{"s":"0.96","g":"b","o":10,"x":32.8,"y":62},{"s":"0.96","g":"b","o":11,"x":32.85,"y":68.9},{"s":"0.96","g":"b","o":12,"x":32.9,"y":63.6},{"s":"0.96","g":"b","o":13,"x":33,"y":68.4},{"s":"0.96","g":"b","o":14,"x":33.2,"y":66.6},{"s":"0.96","g":"b","o":15,"x":33.8,"y":67},{"s":"0.96","g":"b","o":16,"x":60,"y":67.3},
{"s":"0.97","g":"a","o":0,"x":0,"y":-1.2},{"s":"0.97","g":"a","o":1,"x":0.51,"y":1.7},{"s":"0.97","g":"a","o":2,"x":1.02,"y":-1.2},{"s":"0.97","g":"a","o":3,"x":1.53,"y":2.2},{"s":"0.97","g":"a","o":4,"x":2.04,"y":-1.2},{"s":"0.97","g":"a","o":5,"x":2.55,"y":2.7},{"s":"0.97","g":"a","o":6,"x":3.06,"y":-1.2},{"s":"0.97","g":"a","o":7,"x":3.57,"y":3.1},{"s":"0.97","g":"a","o":8,"x":4.08,"y":-1.2},{"s":"0.97","g":"a","o":9,"x":4.59,"y":3.6},{"s":"0.97","g":"a","o":10,"x":5.1,"y":-1.2},{"s":"0.97","g":"a","o":11,"x":5.61,"y":4.2},{"s":"0.97","g":"a","o":12,"x":6.12,"y":-1.2},{"s":"0.97","g":"a","o":13,"x":6.63,"y":4.9},{"s":"0.97","g":"a","o":14,"x":7.14,"y":-1.1},{"s":"0.97","g":"a","o":15,"x":7.65,"y":5.7},{"s":"0.97","g":"a","o":16,"x":8.16,"y":-1.1},{"s":"0.97","g":"a","o":17,"x":8.67,"y":6.4},{"s":"0.97","g":"a","o":18,"x":9.18,"y":-1},{"s":"0.97","g":"a","o":19,"x":9.69,"y":7.1},{"s":"0.97","g":"a","o":20,"x":10.2,"y":-1},{"s":"0.97","g":"a","o":21,"x":10.71,"y":8.4},{"s":"0.97","g":"a","o":22,"x":11.22,"y":-1},{"s":"0.97","g":"a","o":23,"x":11.73,"y":10.1},{"s":"0.97","g":"a","o":24,"x":12.24,"y":-1},{"s":"0.97","g":"a","o":25,"x":12.75,"y":11.8},{"s":"0.97","g":"a","o":26,"x":13.26,"y":-1.1},{"s":"0.97","g":"a","o":27,"x":13.77,"y":13.5},{"s":"0.97","g":"a","o":28,"x":14.28,"y":-1.1},{"s":"0.97","g":"a","o":29,"x":14.79,"y":15.2},{"s":"0.97","g":"a","o":30,"x":15.3,"y":-1.1},{"s":"0.97","g":"a","o":31,"x":15.81,"y":17.5},{"s":"0.97","g":"a","o":32,"x":16.32,"y":-1.8},{"s":"0.97","g":"a","o":33,"x":16.83,"y":20.5},{"s":"0.97","g":"a","o":34,"x":17.34,"y":-2.5},{"s":"0.97","g":"a","o":35,"x":17.85,"y":23.5},{"s":"0.97","g":"a","o":36,"x":18.36,"y":-3.2},{"s":"0.97","g":"a","o":37,"x":18.87,"y":28.3},{"s":"0.97","g":"a","o":38,"x":19.38,"y":-4.4},{"s":"0.97","g":"a","o":39,"x":19.89,"y":34.8},{"s":"0.97","g":"a","o":40,"x":20.4,"y":-5.5},{"s":"0.97","g":"a","o":41,"x":20.55,"y":38.3},{"s":"0.97","g":"a","o":42,"x":20.7,"y":30},{"s":"0.97","g":"a","o":43,"x":21.3,"y":38},{"s":"0.97","g":"a","o":44,"x":21.35,"y":60},{"s":"0.97","g":"a","o":45,"x":21.6,"y":65.9},{"s":"0.97","g":"a","o":46,"x":22.2,"y":66.7},{"s":"0.97","g":"a","o":47,"x":23.8,"y":66.9},{"s":"0.97","g":"a","o":48,"x":60,"y":67.2},
{"s":"0.97","g":"b","o":0,"x":0,"y":0},{"s":"0.97","g":"b","o":1,"x":10,"y":3},{"s":"0.97","g":"b","o":2,"x":20,"y":7},{"s":"0.97","g":"b","o":3,"x":22.5,"y":9.5},{"s":"0.97","g":"b","o":4,"x":25,"y":13},{"s":"0.97","g":"b","o":5,"x":27,"y":16.6},{"s":"0.97","g":"b","o":6,"x":28.5,"y":20},{"s":"0.97","g":"b","o":7,"x":29.4,"y":24.4},{"s":"0.97","g":"b","o":8,"x":30.3,"y":34},{"s":"0.97","g":"b","o":9,"x":30.5,"y":47},{"s":"0.97","g":"b","o":10,"x":30.6,"y":62},{"s":"0.97","g":"b","o":11,"x":30.65,"y":68.9},{"s":"0.97","g":"b","o":12,"x":30.7,"y":63.6},{"s":"0.97","g":"b","o":13,"x":30.8,"y":68.6},{"s":"0.97","g":"b","o":14,"x":31,"y":66.8},{"s":"0.97","g":"b","o":15,"x":31.6,"y":67.2},{"s":"0.97","g":"b","o":16,"x":60,"y":67.5},
{"s":"0.98","g":"a","o":0,"x":0,"y":-1},{"s":"0.98","g":"a","o":1,"x":0.53,"y":1.6},{"s":"0.98","g":"a","o":2,"x":1.05,"y":-1},{"s":"0.98","g":"a","o":3,"x":1.58,"y":2},{"s":"0.98","g":"a","o":4,"x":2.1,"y":-0.9},{"s":"0.98","g":"a","o":5,"x":2.63,"y":2.4},{"s":"0.98","g":"a","o":6,"x":3.15,"y":-0.9},{"s":"0.98","g":"a","o":7,"x":3.68,"y":2.7},{"s":"0.98","g":"a","o":8,"x":4.2,"y":-0.8},{"s":"0.98","g":"a","o":9,"x":4.73,"y":3.1},{"s":"0.98","g":"a","o":10,"x":5.25,"y":-0.8},{"s":"0.98","g":"a","o":11,"x":5.78,"y":3.6},{"s":"0.98","g":"a","o":12,"x":6.3,"y":-0.7},{"s":"0.98","g":"a","o":13,"x":6.83,"y":4.3},{"s":"0.98","g":"a","o":14,"x":7.35,"y":-0.7},{"s":"0.98","g":"a","o":15,"x":7.88,"y":4.9},{"s":"0.98","g":"a","o":16,"x":8.4,"y":-0.6},{"s":"0.98","g":"a","o":17,"x":8.93,"y":5.5},{"s":"0.98","g":"a","o":18,"x":9.45,"y":-0.6},{"s":"0.98","g":"a","o":19,"x":9.98,"y":6.2},{"s":"0.98","g":"a","o":20,"x":10.5,"y":-0.5},{"s":"0.98","g":"a","o":21,"x":11.03,"y":7.2},{"s":"0.98","g":"a","o":22,"x":11.55,"y":-0.4},{"s":"0.98","g":"a","o":23,"x":12.08,"y":8.6},{"s":"0.98","g":"a","o":24,"x":12.6,"y":-0.3},{"s":"0.98","g":"a","o":25,"x":13.13,"y":10},{"s":"0.98","g":"a","o":26,"x":13.65,"y":-0.3},{"s":"0.98","g":"a","o":27,"x":14.18,"y":11.4},{"s":"0.98","g":"a","o":28,"x":14.7,"y":-0.2},{"s":"0.98","g":"a","o":29,"x":15.23,"y":12.8},{"s":"0.98","g":"a","o":30,"x":15.75,"y":-0.1},{"s":"0.98","g":"a","o":31,"x":16.28,"y":15.1},{"s":"0.98","g":"a","o":32,"x":16.8,"y":-0.3},{"s":"0.98","g":"a","o":33,"x":17.33,"y":18.3},{"s":"0.98","g":"a","o":34,"x":17.85,"y":-0.5},{"s":"0.98","g":"a","o":35,"x":18.38,"y":21.4},{"s":"0.98","g":"a","o":36,"x":18.9,"y":-0.7},{"s":"0.98","g":"a","o":37,"x":19.43,"y":26.8},{"s":"0.98","g":"a","o":38,"x":19.95,"y":-1.2},{"s":"0.98","g":"a","o":39,"x":20.48,"y":34.3},{"s":"0.98","g":"a","o":40,"x":21,"y":-1.7},{"s":"0.98","g":"a","o":41,"x":21.15,"y":38.3},{"s":"0.98","g":"a","o":42,"x":21.3,"y":30},{"s":"0.98","g":"a","o":43,"x":22,"y":38},{"s":"0.98","g":"a","o":44,"x":22.05,"y":60},{"s":"0.98","g":"a","o":45,"x":22.3,"y":66.1},{"s":"0.98","g":"a","o":46,"x":22.9,"y":66.9},{"s":"0.98","g":"a","o":47,"x":24.5,"y":67.1},{"s":"0.98","g":"a","o":48,"x":60,"y":67.4},
{"s":"0.98","g":"b","o":0,"x":0,"y":0},{"s":"0.98","g":"b","o":1,"x":10,"y":3.2},{"s":"0.98","g":"b","o":2,"x":18,"y":8},{"s":"0.98","g":"b","o":3,"x":22.1,"y":14.8},{"s":"0.98","g":"b","o":4,"x":24.9,"y":19.5},{"s":"0.98","g":"b","o":5,"x":26.6,"y":23},{"s":"0.98","g":"b","o":6,"x":27.6,"y":30},{"s":"0.98","g":"b","o":7,"x":28.3,"y":40},{"s":"0.98","g":"b","o":8,"x":28.6,"y":50},{"s":"0.98","g":"b","o":9,"x":28.7,"y":62},{"s":"0.98","g":"b","o":10,"x":28.75,"y":68.9},{"s":"0.98","g":"b","o":11,"x":28.8,"y":63.6},{"s":"0.98","g":"b","o":12,"x":28.9,"y":68.8},{"s":"0.98","g":"b","o":13,"x":29.1,"y":67},{"s":"0.98","g":"b","o":14,"x":29.7,"y":67.4},{"s":"0.98","g":"b","o":15,"x":60,"y":67.7},
{"s":"0.99","g":"a","o":0,"x":0,"y":-1},{"s":"0.99","g":"a","o":1,"x":0.54,"y":1.4},{"s":"0.99","g":"a","o":2,"x":1.09,"y":-0.9},{"s":"0.99","g":"a","o":3,"x":1.63,"y":1.7},{"s":"0.99","g":"a","o":4,"x":2.17,"y":-0.9},{"s":"0.99","g":"a","o":5,"x":2.71,"y":2},{"s":"0.99","g":"a","o":6,"x":3.26,"y":-0.8},{"s":"0.99","g":"a","o":7,"x":3.8,"y":2.3},{"s":"0.99","g":"a","o":8,"x":4.34,"y":-0.8},{"s":"0.99","g":"a","o":9,"x":4.88,"y":2.6},{"s":"0.99","g":"a","o":10,"x":5.43,"y":-0.7},{"s":"0.99","g":"a","o":11,"x":5.97,"y":3.1},{"s":"0.99","g":"a","o":12,"x":6.51,"y":-0.6},{"s":"0.99","g":"a","o":13,"x":7.05,"y":3.6},{"s":"0.99","g":"a","o":14,"x":7.6,"y":-0.5},{"s":"0.99","g":"a","o":15,"x":8.14,"y":4.1},{"s":"0.99","g":"a","o":16,"x":8.68,"y":-0.5},{"s":"0.99","g":"a","o":17,"x":9.22,"y":4.6},{"s":"0.99","g":"a","o":18,"x":9.77,"y":-0.4},{"s":"0.99","g":"a","o":19,"x":10.31,"y":5.1},{"s":"0.99","g":"a","o":20,"x":10.85,"y":-0.3},{"s":"0.99","g":"a","o":21,"x":11.39,"y":5.8},{"s":"0.99","g":"a","o":22,"x":11.94,"y":-0.2},{"s":"0.99","g":"a","o":23,"x":12.48,"y":6.9},{"s":"0.99","g":"a","o":24,"x":13.02,"y":-0.1},{"s":"0.99","g":"a","o":25,"x":13.56,"y":7.9},{"s":"0.99","g":"a","o":26,"x":14.11,"y":0},{"s":"0.99","g":"a","o":27,"x":14.65,"y":8.9},{"s":"0.99","g":"a","o":28,"x":15.19,"y":0.1},{"s":"0.99","g":"a","o":29,"x":15.73,"y":10},{"s":"0.99","g":"a","o":30,"x":16.28,"y":0.2},{"s":"0.99","g":"a","o":31,"x":16.82,"y":12.1},{"s":"0.99","g":"a","o":32,"x":17.36,"y":0.3},{"s":"0.99","g":"a","o":33,"x":17.9,"y":15.3},{"s":"0.99","g":"a","o":34,"x":18.45,"y":0.4},{"s":"0.99","g":"a","o":35,"x":18.99,"y":18.4},{"s":"0.99","g":"a","o":36,"x":19.53,"y":0.5},{"s":"0.99","g":"a","o":37,"x":20.07,"y":24.5},{"s":"0.99","g":"a","o":38,"x":20.62,"y":0.5},{"s":"0.99","g":"a","o":39,"x":21.16,"y":33.5},{"s":"0.99","g":"a","o":40,"x":21.7,"y":0.5},{"s":"0.99","g":"a","o":41,"x":21.85,"y":38.3},{"s":"0.99","g":"a","o":42,"x":22,"y":30},{"s":"0.99","g":"a","o":43,"x":22.6,"y":38},{"s":"0.99","g":"a","o":44,"x":22.65,"y":60},{"s":"0.99","g":"a","o":45,"x":22.9,"y":66.4},{"s":"0.99","g":"a","o":46,"x":23.5,"y":67.2},{"s":"0.99","g":"a","o":47,"x":25.1,"y":67.4},{"s":"0.99","g":"a","o":48,"x":60,"y":67.7},
{"s":"0.99","g":"b","o":0,"x":0,"y":0},{"s":"0.99","g":"b","o":1,"x":6.3,"y":3.3},{"s":"0.99","g":"b","o":2,"x":13.2,"y":7.2},{"s":"0.99","g":"b","o":3,"x":17.3,"y":11.2},{"s":"0.99","g":"b","o":4,"x":20,"y":14},{"s":"0.99","g":"b","o":5,"x":22.1,"y":17.5},{"s":"0.99","g":"b","o":6,"x":23.5,"y":21.5},{"s":"0.99","g":"b","o":7,"x":24.6,"y":26.2},{"s":"0.99","g":"b","o":8,"x":25.9,"y":34},{"s":"0.99","g":"b","o":9,"x":26.6,"y":42.8},{"s":"0.99","g":"b","o":10,"x":26.9,"y":52},{"s":"0.99","g":"b","o":11,"x":27,"y":62},{"s":"0.99","g":"b","o":12,"x":27.05,"y":68.9},{"s":"0.99","g":"b","o":13,"x":27.1,"y":63.6},{"s":"0.99","g":"b","o":14,"x":27.2,"y":69},{"s":"0.99","g":"b","o":15,"x":27.4,"y":67.3},{"s":"0.99","g":"b","o":16,"x":28,"y":67.7},{"s":"0.99","g":"b","o":17,"x":60,"y":68}
],
"roll":[
{"s":"0.9","o":0,"x":0,"y":0},{"s":"0.9","o":1,"x":6.35,"y":22.2},{"s":"0.9","o":2,"x":7,"y":26.5},{"s":"0.9","o":3,"x":7.67,"y":31.5},{"s":"0.9","o":4,"x":8.2,"y":36.5},{"s":"0.9","o":5,"x":8.65,"y":42.1},{"s":"0.9","o":6,"x":9.1,"y":47.5},{"s":"0.9","o":7,"x":9.52,"y":52.9},{"s":"0.9","o":8,"x":9.7,"y":56.5},{"s":"0.9","o":9,"x":9.8,"y":60},{"s":"0.9","o":10,"x":9.86,"y":61.5},{"s":"0.9","o":11,"x":10,"y":61.5},
{"s":"0.91","o":0,"x":0,"y":0},{"s":"0.91","o":1,"x":5.5,"y":20},{"s":"0.91","o":2,"x":6.3,"y":24.4},{"s":"0.91","o":3,"x":7.15,"y":31.5},{"s":"0.91","o":4,"x":7.68,"y":36.5},{"s":"0.91","o":5,"x":8.13,"y":42.1},{"s":"0.91","o":6,"x":8.53,"y":47.5},{"s":"0.91","o":7,"x":8.88,"y":52.9},{"s":"0.91","o":8,"x":9.07,"y":56.5},{"s":"0.91","o":9,"x":9.19,"y":60},{"s":"0.91","o":10,"x":9.26,"y":61.5},{"s":"0.91","o":11,"x":10,"y":61.5},
{"s":"0.92","o":0,"x":0,"y":0},{"s":"0.92","o":1,"x":4.75,"y":17.9},{"s":"0.92","o":2,"x":6,"y":25.8},{"s":"0.92","o":3,"x":6.63,"y":31.5},{"s":"0.92","o":4,"x":7.15,"y":36.5},{"s":"0.92","o":5,"x":7.61,"y":42.1},{"s":"0.92","o":6,"x":8.03,"y":47.5},{"s":"0.92","o":7,"x":8.42,"y":52.9},{"s":"0.92","o":8,"x":8.58,"y":56.5},{"s":"0.92","o":9,"x":8.69,"y":60},{"s":"0.92","o":10,"x":8.73,"y":61.5},{"s":"0.92","o":11,"x":10,"y":61.5},
{"s":"0.93","o":0,"x":0,"y":0},{"s":"0.93","o":1,"x":4,"y":15.7},{"s":"0.93","o":2,"x":5,"y":22.2},{"s":"0.93","o":3,"x":6.11,"y":31.5},{"s":"0.93","o":4,"x":6.63,"y":36.5},{"s":"0.93","o":5,"x":7.09,"y":42.1},{"s":"0.93","o":6,"x":7.5,"y":47.5},{"s":"0.93","o":7,"x":7.88,"y":52.9},{"s":"0.93","o":8,"x":8.03,"y":56.5},{"s":"0.93","o":9,"x":8.13,"y":60},{"s":"0.93","o":10,"x":8.19,"y":61.5},{"s":"0.93","o":11,"x":10,"y":61.5},
{"s":"0.94","o":0,"x":0,"y":0},{"s":"0.94","o":1,"x":3.3,"y":13.6},{"s":"0.94","o":2,"x":4,"y":17.6},{"s":"0.94","o":3,"x":4.8,"y":23.5},{"s":"0.94","o":4,"x":5.59,"y":31.5},{"s":"0.94","o":5,"x":6.1,"y":36.5},{"s":"0.94","o":6,"x":6.57,"y":42.1},{"s":"0.94","o":7,"x":6.97,"y":47.5},{"s":"0.94","o":8,"x":7.32,"y":52.9},{"s":"0.94","o":9,"x":7.52,"y":56.5},{"s":"0.94","o":10,"x":7.65,"y":60},{"s":"0.94","o":11,"x":7.73,"y":61.5},{"s":"0.94","o":12,"x":10,"y":61.5},
{"s":"0.95","o":0,"x":0,"y":0},{"s":"0.95","o":1,"x":2.6,"y":11},{"s":"0.95","o":2,"x":4,"y":19.7},{"s":"0.95","o":3,"x":5.16,"y":31.5},{"s":"0.95","o":4,"x":5.63,"y":36.5},{"s":"0.95","o":5,"x":6.06,"y":42.1},{"s":"0.95","o":6,"x":6.48,"y":47.5},{"s":"0.95","o":7,"x":6.86,"y":52.9},{"s":"0.95","o":8,"x":7.05,"y":56.5},{"s":"0.95","o":9,"x":7.19,"y":60},{"s":"0.95","o":10,"x":7.24,"y":61.5},{"s":"0.95","o":11,"x":10,"y":61.5},
{"s":"0.96","o":0,"x":0,"y":0},{"s":"0.96","o":1,"x":2.05,"y":8.7},{"s":"0.96","o":2,"x":3,"y":15},{"s":"0.96","o":3,"x":4,"y":23.6},{"s":"0.96","o":4,"x":4.73,"y":31.5},{"s":"0.96","o":5,"x":5.18,"y":36.5},{"s":"0.96","o":6,"x":5.59,"y":42.1},{"s":"0.96","o":7,"x":6,"y":47.5},{"s":"0.96","o":8,"x":6.38,"y":52.9},{"s":"0.96","o":9,"x":6.58,"y":56.5},{"s":"0.96","o":10,"x":6.72,"y":60},{"s":"0.96","o":11,"x":6.77,"y":61.5},{"s":"0.96","o":12,"x":10,"y":61.5},
{"s":"0.97","o":0,"x":0,"y":0},{"s":"0.97","o":1,"x":1.5,"y":6.9},{"s":"0.97","o":2,"x":3,"y":18.6},{"s":"0.97","o":3,"x":4,"y":26},{"s":"0.97","o":4,"x":4.33,"y":31.5},{"s":"0.97","o":5,"x":4.75,"y":36.5},{"s":"0.97","o":6,"x":5.13,"y":42.1},{"s":"0.97","o":7,"x":5.55,"y":47.5},{"s":"0.97","o":8,"x":5.94,"y":52.9},{"s":"0.97","o":9,"x":6.12,"y":56.5},{"s":"0.97","o":10,"x":6.26,"y":60},{"s":"0.97","o":11,"x":6.35,"y":61.5},{"s":"0.97","o":12,"x":10,"y":61.5},
{"s":"0.98","o":0,"x":0,"y":0},{"s":"0.98","o":1,"x":0.9,"y":4.5},{"s":"0.98","o":2,"x":2,"y":13.6},{"s":"0.98","o":3,"x":3,"y":22},{"s":"0.98","o":4,"x":3.86,"y":31.4},{"s":"0.98","o":5,"x":4.32,"y":36.5},{"s":"0.98","o":6,"x":4.73,"y":42.1},{"s":"0.98","o":7,"x":5.15,"y":47.5},{"s":"0.98","o":8,"x":5.54,"y":52.9},{"s":"0.98","o":9,"x":5.72,"y":56.5},{"s":"0.98","o":10,"x":5.85,"y":60},{"s":"0.98","o":11,"x":5.94,"y":61.5},{"s":"0.98","o":12,"x":10,"y":61.5},
{"s":"0.99","o":0,"x":0,"y":0},{"s":"0.99","o":1,"x":0.45,"y":2.3},{"s":"0.99","o":2,"x":2.02,"y":17.6},{"s":"0.99","o":3,"x":3,"y":25.8},{"s":"0.99","o":4,"x":3.46,"y":31.4},{"s":"0.99","o":5,"x":3.95,"y":36.5},{"s":"0.99","o":6,"x":4.38,"y":42.1},{"s":"0.99","o":7,"x":4.78,"y":47.5},{"s":"0.99","o":8,"x":5.13,"y":52.9},{"s":"0.99","o":9,"x":5.34,"y":56.4},{"s":"0.99","o":10,"x":5.45,"y":60},{"s":"0.99","o":11,"x":5.51,"y":61.5},{"s":"0.99","o":12,"x":10,"y":61.5}
]
},
"hconcat":[
{
"width":290,"height":304,
"title":"Pitch - z Axis Force",
"data":{"name":"pitch"},
"mark":{"type":"line","strokeWidth":2,"strokeJoin":"round","clip":true},
"encoding":{
"x":{"field":"x","type":"quantitative","scale":{"domain":[0,60],"nice":false,"zero":false},"axis":{"title":"Force (N)","values":[0,10,20,30,40,50,60]}},
"y":{"field":"y","type":"quantitative","scale":{"domain":[0,90],"nice":false,"zero":false},"axis":{"title":"Pitch (°)","values":[0,10,20,30,40,50,60,70,80,90]}},
"color":{"field":"s","type":"nominal","scale":{"domain":["0.9","0.91","0.92","0.93","0.94","0.95","0.96","0.97","0.98","0.99"],"range":["#0072BD","#D95319","#EDB120","#7E2F8E","#77AC30","#4DBEEE","#A2142F","#0000FF","#008000","#FF0000"]},
"legend":{"title":null,"orient":"none","legendX":12,"legendY":11,"symbolType":"stroke","symbolSize":1600,"symbolStrokeWidth":2,"labelFont":"DejaVu Serif","labelFontSize":13,"labelColor":"#000000","clipHeight":17,"rowPadding":2.4,"padding":3,"strokeColor":"#262626","fillColor":"#ffffff","labelOffset":3}},
"order":{"field":"o","type":"quantitative"}
}
},
{
"width":290,"height":304,
"title":"Yaw - y Axis Force",
"data":{"name":"yaw"},
"mark":{"type":"line","strokeJoin":"round","clip":true},
"encoding":{
"x":{"field":"x","type":"quantitative","scale":{"domain":[0,60],"nice":false,"zero":false},"axis":{"title":"Force (N)","values":[0,10,20,30,40,50,60]}},
"y":{"field":"y","type":"quantitative","scale":{"domain":[-10,70],"nice":false,"zero":false},"axis":{"title":"Yaw (°)","values":[-10,0,10,20,30,40,50,60,70]}},
"color":{"field":"s","type":"nominal","scale":{"domain":["0.9","0.91","0.92","0.93","0.94","0.95","0.96","0.97","0.98","0.99"],"range":["#0072BD","#D95319","#EDB120","#7E2F8E","#77AC30","#4DBEEE","#A2142F","#0000FF","#008000","#FF0000"]},"legend":null},
"strokeWidth":{"field":"g","type":"nominal","scale":{"domain":["a","b"],"range":[2.6,2]},"legend":null},
"detail":{"field":"g","type":"nominal"},
"order":{"field":"o","type":"quantitative"}
}
},
{
"width":290,"height":304,
"title":"Roll - x Axis Torque",
"data":{"name":"roll"},
"mark":{"type":"line","strokeWidth":2,"strokeJoin":"round","clip":true},
"encoding":{
"x":{"field":"x","type":"quantitative","scale":{"domain":[0,10],"nice":false,"zero":false},"axis":{"title":"Torque (N.m)","values":[0,2,4,6,8,10]}},
"y":{"field":"y","type":"quantitative","scale":{"domain":[0,65],"nice":false,"zero":false},"axis":{"title":"Roll (°)","values":[0,5,10,15,20,25,30,35,40,45,50,55,60,65]}},
"color":{"field":"s","type":"nominal","scale":{"domain":["0.9","0.91","0.92","0.93","0.94","0.95","0.96","0.97","0.98","0.99"],"range":["#0072BD","#D95319","#EDB120","#7E2F8E","#77AC30","#4DBEEE","#A2142F","#0000FF","#008000","#FF0000"]},"legend":null},
"order":{"field":"o","type":"quantitative"}
}
}
]
}
